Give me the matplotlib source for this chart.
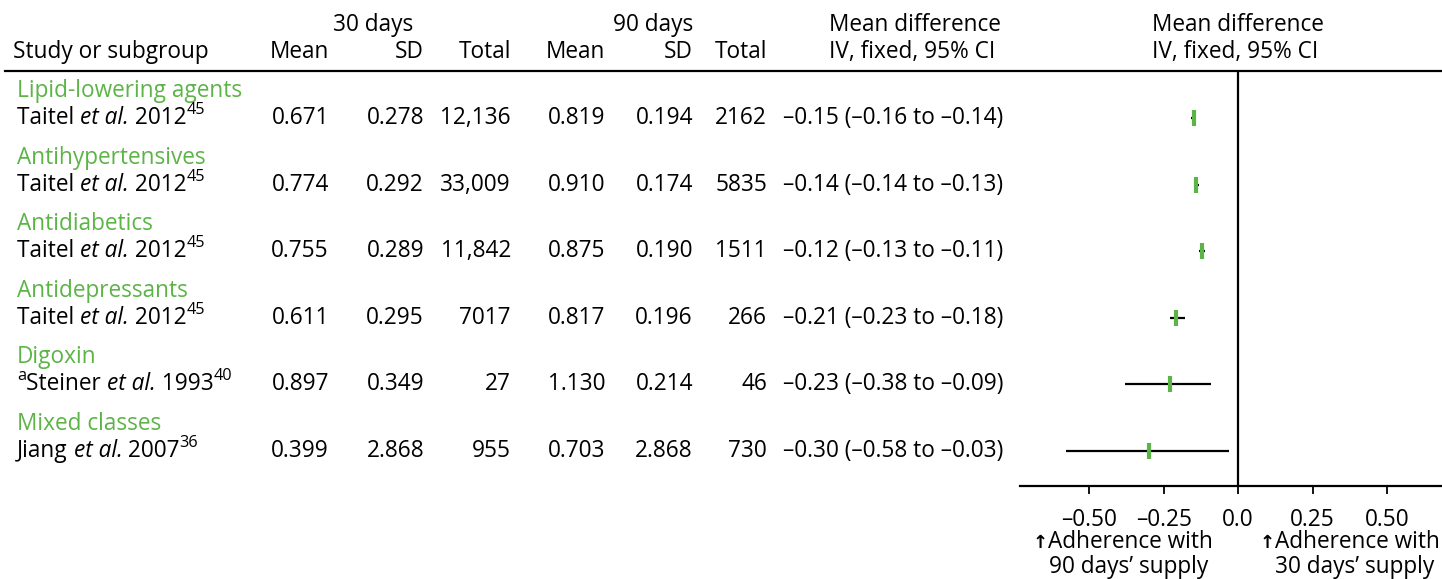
import numpy as np
import matplotlib
matplotlib.use("Agg")
import matplotlib.pyplot as plt

plt.rcParams['font.family'] = ['Open Sans', 'DejaVu Sans']
FS = 16.3
GREEN = '#5cb447'

# data
groups = ['Lipid-lowering agents', 'Antihypertensives', 'Antidiabetics',
          'Antidepressants', 'Digoxin', 'Mixed classes']
authors = ['Taitel', 'Taitel', 'Taitel', 'Taitel', 'Steiner', 'Jiang']
years = ['2012', '2012', '2012', '2012', '1993', '2007']
refs = ['45', '45', '45', '45', '40', '36']
footnote = ['', '', '', '', 'a', '']
mean30 = ['0.671', '0.774', '0.755', '0.611', '0.897', '0.399']
sd30 = ['0.278', '0.292', '0.289', '0.295', '0.349', '2.868']
total30 = ['12,136', '33,009', '11,842', '7017', '27', '955']
mean90 = ['0.819', '0.910', '0.875', '0.817', '1.130', '0.703']
sd90 = ['0.194', '0.174', '0.190', '0.196', '0.214', '2.868']
total90 = ['2162', '5835', '1511', '266', '46', '730']
md = [-0.15, -0.14, -0.12, -0.21, -0.23, -0.30]
lo = [-0.16, -0.14, -0.13, -0.23, -0.38, -0.58]
hi = [-0.14, -0.13, -0.11, -0.18, -0.09, -0.03]
xticks = [-0.50, -0.25, 0.0, 0.25, 0.50]

W, H = 1442, 579
fig = plt.figure(figsize=(W / 100, H / 100), dpi=100)
ax = fig.add_axes([0, 0, 1, 1])
ax.set_xlim(0, W)
ax.set_ylim(H, 0)
ax.axis('off')
renderer = fig.canvas.get_renderer()


def fmt(v):
    return f"{v:.2f}".replace('-', '\u2013')


def rich(x, y, parts):
    # parts: (text, kind) with kind in 'n', 'i', 'sup', 'arrow'
    for txt, kind in parts:
        if not txt:
            continue
        if kind == 'sup':
            t = ax.text(x, y - 8, txt, fontsize=FS * 0.72, va='center', ha='left')
        elif kind == 'arrow':
            t = ax.text(x, y + 1, txt, fontsize=FS * 0.8, va='center', ha='left',
                        family='DejaVu Sans', weight='bold')
        else:
            t = ax.text(x, y, txt, fontsize=FS, va='center', ha='left',
                        style='italic' if kind == 'i' else 'normal')
        bb = t.get_window_extent(renderer)
        x += bb.width


# header
ax.text(13, 52, 'Study or subgroup', fontsize=FS, va='center')
col_x = [329, 424, 511, 605, 693, 767]
for x, lab in zip(col_x, ['Mean', 'SD', 'Total', 'Mean', 'SD', 'Total']):
    ax.text(x, 52, lab, fontsize=FS, va='center', ha='right')
ax.text(413, 25, '30 days', fontsize=FS, va='center', ha='right')
ax.text(693, 25, '90 days', fontsize=FS, va='center', ha='right')
for x0 in (829, 1152):
    ax.text(x0, 25, 'Mean difference', fontsize=FS, va='center')
    ax.text(x0, 52, 'IV, fixed, 95% CI', fontsize=FS, va='center')
ax.plot([5, W], [71, 71], color='black', lw=1.6)

# rows
group_y0, row_step = 91, 66.6
for i in range(len(groups)):
    gy = group_y0 + i * row_step
    sy = gy + 27
    ax.text(17, gy, groups[i], fontsize=FS, va='center', color=GREEN)
    rich(17, sy, [(footnote[i], 'sup'), (authors[i] + ' ', 'n'), ('et al.', 'i'),
                  (' ' + years[i], 'n'), (refs[i], 'sup')])
    vals = [mean30[i], sd30[i], total30[i], mean90[i], sd90[i], total90[i]]
    for x, v in zip(col_x, vals):
        ax.text(x, sy, v, fontsize=FS, va='center', ha='right')
    ax.text(783, sy, f"{fmt(md[i])} ({fmt(lo[i])} to {fmt(hi[i])})",
            fontsize=FS, va='center')

# forest
fx0, fx1, ftop, fbot = 1020, W, 71, 486
fa = fig.add_axes([fx0 / W, (H - fbot) / H, (fx1 - fx0) / W, (fbot - ftop) / H])
fa.set_xlim(-0.733, 0.685)
fa.set_ylim(fbot, ftop)
fa.patch.set_alpha(0)
for s in ('top', 'right', 'left'):
    fa.spines[s].set_visible(False)
fa.spines['bottom'].set_linewidth(1.6)
fa.set_yticks([])
fa.set_xticks(xticks)
fa.set_xticklabels([fmt(v) if v != 0 else '0.0' for v in xticks], fontsize=FS)
fa.tick_params(axis='x', length=6, width=1.3, pad=10)
fa.axvline(0, color='black', lw=1.6)
for i in range(len(md)):
    y = group_y0 + i * row_step + 27
    fa.plot([lo[i], hi[i]], [y, y], color='black', lw=1.6, solid_capstyle='butt')
    fa.plot([md[i]], [y], marker='|', ms=11, mew=3, color=GREEN)

rich(1033, 542, [('\u2191', 'arrow'), ('Adherence with', 'n')])
ax.text(1129, 567, '90 days\u2019 supply', fontsize=FS, va='center', ha='center')
rich(1260, 542, [('\u2191', 'arrow'), ('Adherence with', 'n')])
ax.text(1355, 567, '30 days\u2019 supply', fontsize=FS, va='center', ha='center')

fig.savefig('out.png', dpi=100)
